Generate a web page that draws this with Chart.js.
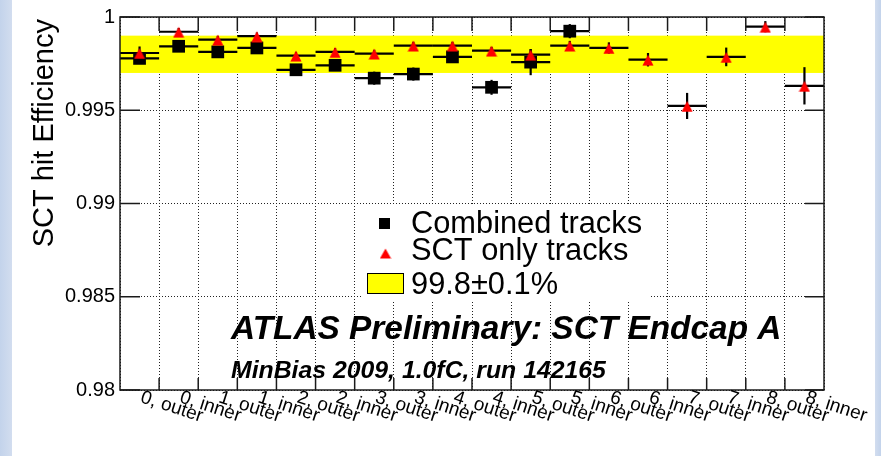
<!DOCTYPE html>
<html>
<head>
<meta charset="utf-8">
<title>SCT hit efficiency, Endcap A</title>
<script src="https://cdn.jsdelivr.net/npm/chart.js@4/dist/chart.umd.min.js"></script>
<style>
  html, body { margin: 0; padding: 0; }
  body {
    width: 881px;
    height: 456px;
    overflow: hidden;
    background: linear-gradient(to right, #c3d3eb 0px, #d2ddef 12px, #ffffff 12px, #ffffff 875px, #d2ddef 875px, #c3d3eb 881px);
  }
  canvas { display: block; }
</style>
</head>
<body>
<canvas id="effChart" width="881" height="456"></canvas>
<script>
/* ======================================================
   DATA
====================================================== */

const disks = [
  "0, outer", "0, inner", "1, outer", "1, inner", "2, outer", "2, inner",
  "3, outer", "3, inner", "4, outer", "4, inner", "5, outer", "5, inner",
  "6, outer", "6, inner", "7, outer", "7, inner", "8, outer", "8, inner"
];

// combined tracks: no entries for disks 6-8
const combined = [
  0.99778, 0.99843, 0.99813, 0.99834, 0.99717, 0.99741,
  0.99672, 0.99694, 0.99786, 0.99623, 0.99758, 0.99924,
  null, null, null, null, null, null
];
const combinedErr = [
  0.00010, 0.00015, 0.00015, 0.00015, 0.00015, 0.00020,
  0.00035, 0.00035, 0.00020, 0.00040, 0.00070, 0.00038,
  0, 0, 0, 0, 0, 0
];

const sctOnly = [
  0.99807, 0.99921, 0.99879, 0.99897, 0.99793, 0.99813,
  0.99804, 0.99847, 0.99847, 0.99820, 0.99798, 0.99847,
  0.99834, 0.99771, 0.99523, 0.99786, 0.99948, 0.99631
];
const sctOnlyErr = [
  0.00035, 0.00020, 0.00020, 0.00020, 0.00020, 0.00020,
  0.00020, 0.00020, 0.00020, 0.00020, 0.00030, 0.00025,
  0.00030, 0.00036, 0.00070, 0.00050, 0.00030, 0.00100
];

const yTicks = [0.98, 0.985, 0.99, 0.995, 1];
const bandCentre = 0.998;
const bandHalfWidth = 0.001;
const bandLabel = "99.8\u00b10.1%";

/* ======================================================
   HELPERS
====================================================== */

const FONT = '"Liberation Sans", Arial, Helvetica, sans-serif';

function toPoints(values) {
  return values
    .map((v, i) => ({ x: i, y: v }))
    .filter(p => p.y !== null);
}

// upward triangle, centred on its bounding box like the ROOT marker
function triangleMarker(w, h) {
  const c = document.createElement("canvas");
  c.width = w;
  c.height = h;
  const g = c.getContext("2d");
  g.fillStyle = "#ff0000";
  g.beginPath();
  g.moveTo(w / 2, 1.5);
  g.lineTo(w - 0.4, h - 0.5);
  g.lineTo(0.4, h - 0.5);
  g.closePath();
  g.fill();
  return c;
}

function line(ctx, x1, y1, x2, y2) {
  ctx.beginPath();
  ctx.moveTo(x1, y1);
  ctx.lineTo(x2, y2);
  ctx.stroke();
}

/* ======================================================
   ROOT-STYLE DECORATIONS
====================================================== */

const rootStyle = {
  id: "rootStyle",

  beforeDatasetsDraw(chart) {
    const { ctx, chartArea: a, scales: { y } } = chart;
    ctx.save();
    const top = y.getPixelForValue(bandCentre + bandHalfWidth);
    const bot = y.getPixelForValue(bandCentre - bandHalfWidth);
    ctx.fillStyle = "#ffff00";
    ctx.fillRect(a.left, top, a.right - a.left, bot - top);
    // legend pane hides the grid behind it
    ctx.fillStyle = "#ffffff";
    ctx.fillRect(362, 206, 288, 94);
    ctx.restore();
  },

  // error bars under each series' markers
  beforeDatasetDraw(chart, args) {
    const ds = chart.data.datasets[args.index];
    const { ctx, scales: { x, y } } = chart;
    ctx.save();
    ctx.strokeStyle = "#000";
    ctx.lineWidth = 2.2;
    ds.values.forEach((v, i) => {
      if (v === null) return;
      const px = x.getPixelForValue(i);
      const py = y.getPixelForValue(v);
      line(ctx, x.getPixelForValue(i - 0.5), py, x.getPixelForValue(i + 0.5), py);
      const e = ds.errors[i];
      if (e) line(ctx, px, y.getPixelForValue(v + e), px, y.getPixelForValue(v - e));
    });
    ctx.restore();
  },

  afterDatasetsDraw(chart) {
    const { ctx, chartArea: a, scales: { x, y } } = chart;
    ctx.save();

    // frame and inward ticks
    ctx.strokeStyle = "#1a1a1a";
    ctx.lineWidth = 1.5;
    ctx.strokeRect(a.left, a.top, a.right - a.left, a.bottom - a.top);
    yTicks.forEach(v => {
      const py = y.getPixelForValue(v);
      line(ctx, a.left, py, a.left + 20, py);
      line(ctx, a.right - 19, py, a.right, py);
    });
    for (let i = 0; i < disks.length - 1; i++) {
      const px = x.getPixelForValue(i + 0.5);
      line(ctx, px, a.bottom, px, a.bottom - 12);
      line(ctx, px, a.top, px, a.top + 14);
    }

    // tilted bin labels
    ctx.fillStyle = "#000";
    ctx.font = `19px ${FONT}`;
    ctx.textAlign = "left";
    ctx.textBaseline = "alphabetic";
    disks.forEach((label, i) => {
      ctx.save();
      ctx.translate(x.getPixelForValue(i), a.bottom + 12);
      ctx.rotate(18 * Math.PI / 180);
      ctx.fillText(label, 0, 0);
      ctx.restore();
    });

    // y axis title
    ctx.save();
    ctx.font = `29px ${FONT}`;
    ctx.translate(53, a.top + 2);
    ctx.rotate(-Math.PI / 2);
    ctx.textAlign = "right";
    ctx.fillText("SCT hit Efficiency", 0, 0);
    ctx.restore();

    // legend
    ctx.fillStyle = "#000";
    ctx.fillRect(379, 218, 11, 11);
    ctx.drawImage(triangleMarker(12, 12), 379.5, 247);
    ctx.fillStyle = "#ffff00";
    ctx.fillRect(367, 273, 37, 21);
    ctx.strokeStyle = "#000";
    ctx.lineWidth = 1;
    ctx.strokeRect(367.5, 273.5, 36, 20);
    ctx.fillStyle = "#000";
    ctx.font = `30.8px ${FONT}`;
    ctx.fillText(chart.data.datasets[0].label, 411, 233);
    ctx.fillText(chart.data.datasets[1].label, 411, 260);
    ctx.fillText(bandLabel, 411, 294);

    // experiment labels
    ctx.font = `italic bold 33.4px ${FONT}`;
    ctx.fillText("ATLAS Preliminary: SCT Endcap A", 231, 339);
    ctx.font = `italic bold 24.8px ${FONT}`;
    ctx.fillText("MinBias 2009, 1.0fC, run 142165", 231, 378);

    ctx.restore();
  }
};

/* ======================================================
   CHART
====================================================== */

const ctx = document.getElementById("effChart");

new Chart(ctx, {
  type: "scatter",
  data: {
    datasets: [
      {
        label: "Combined tracks",
        data: toPoints(combined),
        values: combined,
        errors: combinedErr,
        pointStyle: "rect",
        pointRadius: 9,
        backgroundColor: "#000",
        borderWidth: 0,
        order: 2
      },
      {
        label: "SCT only tracks",
        data: toPoints(sctOnly),
        values: sctOnly,
        errors: sctOnlyErr,
        pointStyle: triangleMarker(12, 13),
        order: 1
      }
    ]
  },
  options: {
    responsive: false,
    devicePixelRatio: 1,
    animation: false,
    events: [],
    layout: { padding: { left: 0, top: 16, right: 57, bottom: 0 } },
    plugins: {
      legend: { display: false },
      tooltip: { enabled: false }
    },
    scales: {
      x: {
        type: "linear",
        min: -0.5,
        max: disks.length - 0.5,
        afterBuildTicks: scale => {
          scale.ticks = disks.map((_, i) => ({ value: i - 0.5 })).concat({ value: disks.length - 0.5 });
        },
        afterFit: scale => { scale.height = 66; },
        ticks: { display: false },
        grid: { color: "#222", lineWidth: 1, drawTicks: false },
        border: { display: false, dash: [1, 2] }
      },
      y: {
        min: 0.98,
        max: 1,
        afterBuildTicks: scale => {
          scale.ticks = yTicks.map(v => ({ value: v }));
        },
        afterFit: scale => { scale.width = 120; },
        ticks: {
          color: "#000",
          padding: 5,
          font: { family: FONT, size: 20 },
          callback: v => String(+v.toFixed(3))
        },
        grid: { color: "#222", lineWidth: 1, drawTicks: false },
        border: { display: false, dash: [1, 2] }
      }
    }
  },
  plugins: [rootStyle]
});
</script>
</body>
</html>
